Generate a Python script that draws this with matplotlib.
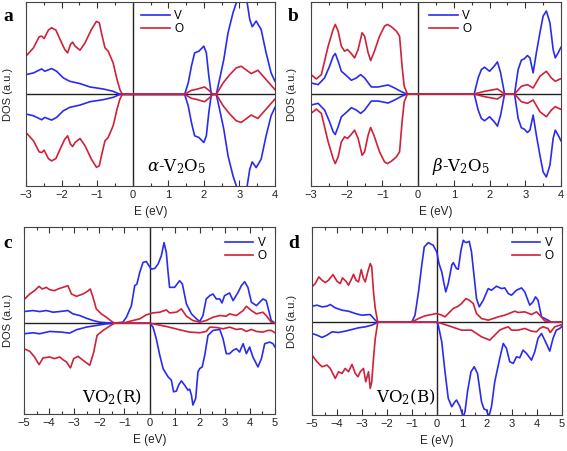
import numpy as np
import matplotlib
matplotlib.use("Agg")
import matplotlib.pyplot as plt
from matplotlib.lines import Line2D
from matplotlib.ticker import MultipleLocator

# ---------------- Panel a: alpha-V2O5 (spin-up; spin-down is mirror) -------------
a_O_x = [-3.00, -2.79, -2.63, -2.56, -2.49, -2.37, -2.28, -2.16, -2.05, -1.91, -1.83, -1.75,
         -1.69, -1.62, -1.48, -1.34, -1.16, -1.02, -0.94, -0.88, -0.78, -0.69, -0.55, -0.44,
         -0.36, -0.29, 1.46, 1.65, 1.79, 2.02, 2.14, 2.26, 2.35, 2.54, 2.73, 2.91, 3.05,
         3.24, 3.33, 3.52, 3.75, 4.00]
a_O_y = [114, 139, 172, 174, 167, 192, 199, 192, 166, 134, 124, 149,
         156, 144, 132, 154, 194, 218, 214, 184, 139, 129, 94, 44,
         14, 0, 0, 12, 15, 22, 12, 0, 0, 34, 59, 79, 84,
         69, 62, 72, 44, 14]
a_V_x = [-3.00, -2.79, -2.56, -2.47, -2.28, -2.14, -1.95, -1.77, -1.48, -1.20, -0.83, -0.55,
         -0.38, -0.29, 1.46, 1.56, 1.65, 1.74, 1.86, 2.00, 2.07, 2.14, 2.21, 2.35, 2.44,
         2.56, 2.68, 2.82, 2.93, 3.05, 3.21, 3.29, 3.36, 3.47, 3.61, 3.75, 3.89, 4.00]
a_V_y = [59, 64, 76, 69, 77, 69, 49, 39, 32, 22, 16, 9,
         1, 0, 0, 34, 84, 124, 129, 144, 124, 54, 0, 0, 44,
         104, 184, 244, 279, 330, 279, 224, 202, 219, 194, 124, 64, 39]

# ---------------- Panel b: beta-V2O5 ---------------------------------------------
b_O_x = [-3.00, -2.85, -2.71, -2.52, -2.38, -2.32, -2.24, -2.15, -2.06, -1.98, -1.89, -1.78,
         -1.68, -1.57, -1.50, -1.40, -1.33, -1.24, -1.08, -0.94, -0.86, -0.75, -0.61, -0.52,
         -0.45, -0.39, -0.30, 1.57, 1.86, 2.22, 2.42, 2.70, 2.89, 3.06, 3.22, 3.41, 3.59,
         3.73, 3.84, 4.00]
b_O_y = [58, 45, 58, 143, 193, 208, 188, 143, 128, 133, 123, 108,
         133, 183, 173, 123, 100, 123, 173, 203, 208, 201, 188, 173,
         83, 23, 0, 0, 8, 15, 0, 0, 23, 28, 18, 53, 68,
         48, 38, 46]
b_V_x = [-3.00, -2.80, -2.62, -2.48, -2.38, -2.32, -2.24, -2.15, -2.01, -1.87, -1.73, -1.61,
         -1.50, -1.31, -1.12, -0.84, -0.66, -0.47, -0.32, 1.57, 1.68, 1.77, 1.86, 2.00, 2.13,
         2.22, 2.31, 2.42, 2.70, 2.80, 2.89, 2.97, 3.06, 3.13, 3.22, 3.31, 3.41, 3.50, 3.59,
         3.69, 3.78, 3.84, 3.92, 4.00]
b_V_y = [33, 28, 48, 83, 113, 121, 98, 68, 55, 41, 48, 58,
         48, 21, 21, 27, 18, 7, 0, 0, 48, 73, 80, 68, 83,
         96, 63, 0, 0, 73, 101, 105, 115, 108, 63, 123, 183, 233, 248,
         213, 133, 108, 123, 140]

# ---------------- Panel c: VO2(R) ------------------------------------------------
c_O_up_x = [-5.00, -4.77, -4.58, -4.40, -4.27, -4.11, -3.98, -3.78, -3.65, -3.45, -3.25, -3.11,
            -2.91, -2.65, -2.49, -2.36, -2.25, -2.12, -1.92, -1.72, -1.52, -1.39, -1.06, -0.66,
            -0.39, -0.13, 0.14, 0.41, 0.67, 0.80, 1.07, 1.27, 1.47, 1.73, 2.00, 2.26, 2.53,
            2.80, 3.06, 3.19, 3.46, 3.73, 3.86, 4.06, 4.26, 4.52, 4.65, 4.85, 5.00]
c_O_up_y = [71, 88, 98, 111, 103, 108, 101, 98, 103, 108, 113, 88,
            81, 88, 95, 103, 78, 43, 28, 18, 6, 0, 0, 8,
            13, 25, 31, 33, 40, 31, 33, 43, 21, 8, 3, 8, 18,
            23, 21, 28, 23, 38, 51, 38, 28, 33, 23, 3, 0]
c_V_up_x = [-5.00, -4.64, -4.38, -4.11, -3.84, -3.58, -3.25, -3.05, -2.78, -2.52, -2.25, -1.99,
            -1.45, -1.06, -0.92, -0.72, -0.59, -0.50, -0.39, -0.26, -0.13, -0.02, 0.07, 0.21,
            0.34, 0.47, 0.58, 0.67, 0.74, 0.80, 1.00, 1.20, 1.31, 1.47, 1.67, 1.87, 2.00,
            2.13, 2.26, 2.40, 2.53, 2.66, 2.80, 2.89, 2.99, 3.19, 3.33, 3.53, 3.66, 3.79,
            3.92, 4.06, 4.26, 4.52, 4.65, 4.85, 5.00]
c_V_up_y = [35, 38, 35, 38, 33, 35, 38, 28, 23, 15, 8, 3,
            0, 3, 18, 53, 113, 118, 153, 183, 186, 173, 163, 165,
            178, 203, 243, 213, 153, 108, 108, 128, 118, 58, 28, 13, 5,
            23, 73, 83, 88, 73, 73, 61, 83, 91, 68, 93, 113, 125,
            108, 63, 53, 73, 68, 8, 0]
c_V_dn_x = [-5.00, -4.64, -4.38, -3.98, -3.51, -3.18, -2.91, -2.52, -2.12, -1.72, -1.39, 0.01,
            0.14, 0.27, 0.41, 0.54, 0.74, 0.87, 0.96, 1.07, 1.16, 1.27, 1.40, 1.53, 1.60,
            1.67, 1.73, 1.84, 1.93, 2.00, 2.10, 2.20, 2.33, 2.53, 2.80, 2.93, 3.06, 3.19,
            3.33, 3.46, 3.59, 3.73, 3.86, 3.99, 4.12, 4.32, 4.46, 4.59, 4.79, 4.92, 5.00]
c_V_dn_y = [-32, -29, -32, -25, -27, -30, -20, -12, -7, -2, 0, 0,
            -12, -47, -97, -137, -162, -172, -207, -205, -187, -174, -187, -202, -199,
            -217, -247, -227, -147, -137, -132, -97, -37, -22, -19, -47, -92, -92,
            -82, -77, -87, -62, -92, -72, -102, -132, -107, -62, -57, -62, -72]
c_O_dn_x = [-5.00, -4.77, -4.58, -4.40, -4.24, -3.98, -3.78, -3.58, -3.45, -3.31, -3.15, -3.02,
            -2.85, -2.65, -2.38, -2.22, -2.09, -1.85, -1.59, -1.39, 0.01, 0.27, 0.67, 1.20,
            1.60, 2.00, 2.26, 2.40, 2.66, 2.93, 3.19, 3.46, 3.66, 3.86, 4.06, 4.26, 4.52,
            4.72, 4.85, 5.00]
c_O_dn_y = [-77, -85, -102, -125, -105, -102, -107, -102, -110, -117, -135, -107,
            -100, -112, -127, -87, -37, -22, -9, 0, 0, -4, -10, -20,
            -27, -29, -25, -12, -13, -17, -12, -19, -17, -25, -19, -25, -27,
            -22, -22, -29]

# ---------------- Panel d: VO2(B) ------------------------------------------------
d_O_up_x = [-5.00, -4.87, -4.73, -4.60, -4.47, -4.34, -4.16, -4.00, -3.87, -3.78, -3.64, -3.54,
            -3.40, -3.34, -3.24, -3.14, -3.03, -2.94, -2.87, -2.77, -2.67, -2.61, -2.54, -2.47,
            -2.37, -1.01, -0.74, -0.48, -0.21, -0.01, 0.19, 0.32, 0.45, 0.65, 0.85, 0.98,
            1.16, 1.29, 1.45, 1.58, 1.78, 2.05, 2.45, 2.71, 2.98, 3.11, 3.24, 3.51, 3.78,
            3.98, 4.11, 4.31, 4.57, 5.00]
d_O_up_y = [106, 116, 136, 126, 119, 126, 143, 123, 116, 133, 123, 111,
            133, 144, 126, 121, 158, 131, 121, 151, 176, 166, 91, 41,
            0, 0, 11, 19, 23, 26, 21, 16, 26, 41, 48, 56,
            71, 66, 56, 26, 11, 6, 16, 21, 29, 33, 29, 31, 23,
            31, 21, 4, 0, 0]
d_V_up_x = [-5.00, -4.80, -4.60, -4.40, -4.27, -4.07, -3.80, -3.54, -3.27, -3.01, -2.67, -2.47,
            -2.37, -1.01, -0.88, -0.74, -0.61, -0.51, -0.35, -0.15, -0.01, 0.08, 0.19, 0.28,
            0.35, 0.45, 0.59, 0.65, 0.78, 0.85, 0.96, 1.05, 1.12, 1.18, 1.29, 1.38, 1.48,
            1.58, 1.69, 1.85, 2.05, 2.18, 2.38, 2.58, 2.71, 2.85, 2.98, 3.18, 3.38, 3.51,
            3.71, 3.84, 3.94, 4.04, 4.18, 4.44, 4.57, 5.00]
d_V_up_y = [48, 51, 46, 48, 53, 43, 36, 33, 26, 21, 23, 6,
            0, 0, 21, 91, 171, 226, 239, 231, 211, 176, 151, 116,
            91, 116, 171, 179, 161, 159, 216, 246, 241, 239, 243, 211, 141,
            71, 46, 66, 101, 96, 108, 101, 103, 86, 81, 96, 103, 91,
            51, 61, 76, 66, 16, 6, 0, 0]
d_V_dn_x = [-5.00, -4.80, -4.60, -4.40, -4.20, -3.94, -3.67, -3.40, -3.14, -2.87, -2.61, -2.47,
            -2.37, -0.01, 0.05, 0.19, 0.32, 0.45, 0.59, 0.72, 0.78, 0.92, 1.05, 1.12, 1.22,
            1.36, 1.49, 1.62, 1.78, 1.88, 1.98, 2.07, 2.18, 2.31, 2.51, 2.65, 2.78, 2.91,
            3.05, 3.18, 3.31, 3.44, 3.58, 3.78, 3.91, 4.04, 4.18, 4.31, 4.51, 4.64, 4.77,
            4.91, 5.00]
d_V_dn_y = [-34, -39, -46, -39, -29, -31, -27, -22, -17, -14, -9, -4,
            0, 0, -9, -59, -149, -229, -254, -239, -234, -254, -285, -269, -209,
            -149, -134, -154, -239, -261, -264, -285, -254, -179, -109, -64, -79, -119,
            -124, -104, -107, -84, -94, -114, -89, -49, -34, -54, -87, -49, -24,
            -19, -12]
d_O_dn_x = [-5.00, -4.80, -4.60, -4.40, -4.27, -4.07, -3.94, -3.80, -3.67, -3.54, -3.40, -3.27,
            -3.16, -3.07, -2.94, -2.85, -2.74, -2.67, -2.61, -2.54, -2.47, -2.37, -0.01, 0.19,
            0.59, 0.98, 1.38, 1.78, 2.11, 2.31, 2.51, 2.65, 2.85, 2.98, 3.24, 3.51, 3.78,
            3.98, 4.11, 4.24, 4.44, 4.53, 4.71, 5.00]
d_O_dn_y = [-99, -119, -134, -129, -139, -169, -149, -154, -139, -149, -127, -154,
            -164, -149, -139, -179, -149, -199, -179, -109, -49, 0, 0, -4,
            -14, -24, -24, -44, -54, -39, -24, -19, -14, -24, -24, -19, -27,
            -29, -19, -14, -19, -31, -14, -7]

panel_letters = ["a", "b", "c", "d"]
panel_titles = [r"$\it{\alpha}$-V$_2$O$_5$", r"$\it{\beta}$-V$_2$O$_5$", "VO$_2$(R)", "VO$_2$(B)"]
series_labels = ["V", "O"]

BLUE = "#2b2bf0"
RED = "#d0203a"

W, H = 567, 451
plt.rcParams['font.family'] = ['Liberation Sans', 'DejaVu Sans']
plt.rcParams['mathtext.fontset'] = 'custom'
plt.rcParams['mathtext.rm'] = 'DejaVu Serif'
plt.rcParams['mathtext.it'] = 'DejaVu Serif:italic'
fig = plt.figure(figsize=(W / 100, H / 100), dpi=100)

def make_ax(l, t, r, b):
    return fig.add_axes([l / W, 1 - b / H, (r - l) / W, (b - t) / H])

axes = [make_ax(26, 2, 275, 186), make_ax(311, 2, 561, 186),
        make_ax(24, 227, 275, 414), make_ax(312, 227, 562, 415)]
ylims = [(-274, 276), (-275, 275), (-274, 290), (-279, 286)]
xlims = [(-3, 4), (-3, 4), (-5, 5), (-5, 5)]

curves = [
    [(a_V_x, a_V_y, BLUE), (a_V_x, [-v for v in a_V_y], BLUE),
     (a_O_x, a_O_y, RED), (a_O_x, [-v for v in a_O_y], RED)],
    [(b_V_x, b_V_y, BLUE), (b_V_x, [-v for v in b_V_y], BLUE),
     (b_O_x, b_O_y, RED), (b_O_x, [-v for v in b_O_y], RED)],
    [(c_V_up_x, c_V_up_y, BLUE), (c_V_dn_x, c_V_dn_y, BLUE),
     (c_O_up_x, c_O_up_y, RED), (c_O_dn_x, c_O_dn_y, RED)],
    [(d_V_up_x, d_V_up_y, BLUE), (d_V_dn_x, d_V_dn_y, BLUE),
     (d_O_up_x, d_O_up_y, RED), (d_O_dn_x, d_O_dn_y, RED)],
]

title_pos = [(0.487, 0.105), (0.484, 0.105), (0.23, 0.09), (0.256, 0.094)]
legend_anchor = [(0.43, 1.0), (0.44, 1.0), (1.0, 0.99), (1.0, 0.99)]
legend_loc = ["upper left", "upper left", "upper right", "upper right"]
ylabel_x = [13, 297, 13, 297]
lefts = [26, 311, 24, 312]
widths = [249, 250, 251, 250]

for i, ax in enumerate(axes):
    ax.axhline(0, color="#222222", lw=1.0, zorder=1)
    ax.axvline(0, color="#222222", lw=1.0, zorder=1)
    for xs, ys, col in curves[i]:
        ax.plot(xs, ys, color=col, lw=1.2, zorder=2, solid_joinstyle="round")
    ax.set_xlim(*xlims[i])
    ax.set_ylim(*ylims[i])
    ax.set_yticks([])
    ax.xaxis.set_major_locator(MultipleLocator(1))
    ax.xaxis.set_minor_locator(MultipleLocator(0.5))
    ax.tick_params(axis="x", which="both", direction="in", top=True, labelsize=8,
                   pad=3, colors="#333333", labelcolor="#222222")
    ax.tick_params(axis="x", which="major", length=4, width=0.8)
    ax.tick_params(axis="x", which="minor", length=2, width=0.8)
    for s in ax.spines.values():
        s.set_color("#444444")
        s.set_linewidth(0.8)
    ax.set_xlabel("E (eV)", fontsize=8.5, labelpad=4, color="#222222")
    ax.set_ylabel("DOS (a.u.)", fontsize=8, color="#222222")
    ax.yaxis.set_label_coords((ylabel_x[i] - lefts[i]) / widths[i], 0.5)
    ax.text(title_pos[i][0], title_pos[i][1], panel_titles[i], transform=ax.transAxes,
            fontsize=12, family="DejaVu Serif", va="center", ha="left")
    handles = [Line2D([], [], color=BLUE, lw=1.2), Line2D([], [], color=RED, lw=1.2)]
    ax.legend(handles, series_labels, loc=legend_loc[i], bbox_to_anchor=legend_anchor[i],
              frameon=False, fontsize=8.5, handlelength=2.4, handletextpad=0.4,
              labelspacing=0.05, borderaxespad=0.3)

letter_pos = [(3, 8), (288, 8), (3, 235), (288, 235)]
for (px, py), letter in zip(letter_pos, panel_letters):
    fig.text(px / W, 1 - py / H, letter, fontsize=14, fontweight="bold",
             family="Liberation Serif", va="top", ha="left")

fig.savefig("out.png", dpi=100)
